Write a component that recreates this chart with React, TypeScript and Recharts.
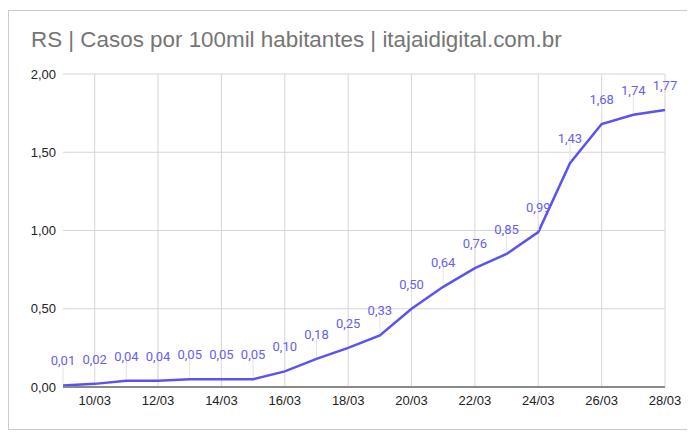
import React from 'react';
import { LineChart, Line, XAxis, YAxis, CartesianGrid, LabelList, ReferenceLine } from 'recharts';

const dates = ['09/03','10/03','11/03','12/03','13/03','14/03','15/03','16/03','17/03','18/03','19/03','20/03','21/03','22/03','23/03','24/03','25/03','26/03','27/03','28/03'];
const casos = [0.01,0.02,0.04,0.04,0.05,0.05,0.05,0.10,0.18,0.25,0.33,0.50,0.64,0.76,0.85,0.99,1.43,1.68,1.74,1.77];
const xTickLabels = ['10/03','12/03','14/03','16/03','18/03','20/03','22/03','24/03','26/03','28/03'];
const yTicks = [0, 0.5, 1, 1.5, 2];
const title = 'RS | Casos por 100mil habitantes | itajaidigital.com.br';

const dayOf = (d: string) => parseInt(d.slice(0, 2), 10);
const data = dates.map((d, i) => ({ day: dayOf(d), label: d, value: casos[i] }));
const fmt = (v: number) => v.toFixed(2).replace('.', ',');

const LINE = '#5a53f0';
const GRID = '#d6d6d6';
const TICK_FONT = 'Arial, "Liberation Sans", sans-serif';

const PointLabel = (props: any) => {
  const { x, y, value } = props;
  return (
    <g>
      <line x1={x} y1={y - 2} x2={x} y2={y - 20} stroke="#e3e3e3" strokeWidth={1} />
      <text x={x} y={y - 20} textAnchor="middle" fontFamily="Roboto, Arial, sans-serif" fontSize={13} fill="#6660f2">
        {fmt(value)}
      </text>
    </g>
  );
};

export default function App() {
  return (
    <div style={{ position: 'relative', width: 680, height: 420, marginTop: 2, boxSizing: 'border-box', border: '1px solid #cccccc', background: '#fff' }}>
      <div style={{ position: 'absolute', left: 22, top: 18, fontFamily: TICK_FONT, fontSize: 22.4, lineHeight: '22px', color: '#757575', whiteSpace: 'nowrap' }}>
        {title}
      </div>
      <div style={{ position: 'absolute', left: -1, top: -1 }}>
        <LineChart width={680} height={420} data={data} margin={{ top: 64, right: 23, bottom: 13, left: 5 }}>
          <CartesianGrid stroke={GRID} strokeWidth={1} vertical={false} />
          {xTickLabels.map((t) => (
            <ReferenceLine key={t} x={dayOf(t)} stroke={GRID} strokeWidth={1} ifOverflow="extendDomain" />
          ))}
          <XAxis
            dataKey="day"
            type="number"
            domain={[dayOf(dates[0]), dayOf(dates[dates.length - 1])]}
            ticks={xTickLabels.map(dayOf)}
            tickFormatter={(v: number) => xTickLabels.find((t) => dayOf(t) === v) || ''}
            height={30}
            axisLine={{ stroke: '#8a8a8a', strokeWidth: 2 }}
            tickLine={false}
            tickSize={0}
            tickMargin={9}
            tick={{ fill: '#222', fontSize: 13, fontFamily: TICK_FONT }}
          />
          <YAxis
            type="number"
            domain={[0, 2]}
            ticks={yTicks}
            tickFormatter={fmt}
            width={50}
            axisLine={false}
            tickLine={false}
            tickSize={0}
            tickMargin={7}
            tick={{ fill: '#222', fontSize: 13, fontFamily: TICK_FONT }}
          />
          <Line type="linear" dataKey="value" stroke={LINE} strokeWidth={2.5} dot={false} isAnimationActive={false}>
            <LabelList dataKey="value" content={PointLabel} />
          </Line>
        </LineChart>
      </div>
    </div>
  );
}
